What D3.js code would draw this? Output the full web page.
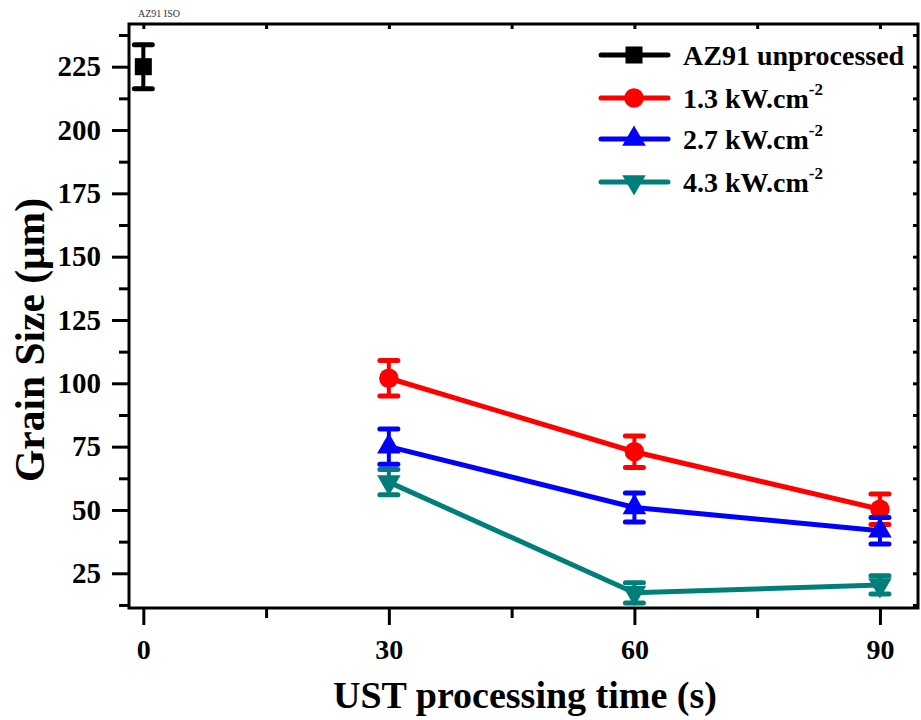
<!DOCTYPE html>
<html>
<head>
<meta charset="utf-8">
<script src="https://cdn.jsdelivr.net/npm/d3@7"></script>
<style>
  body { margin: 0; background: #fff; }
  svg { display: block; font-family: "Liberation Serif", "Times New Roman", serif; }
</style>
</head>
<body>
<div id="chart"></div>
<script>
// data
const unprocessedTime = [0];
const unprocessedSize = [225];
const unprocessedErr = [8.7];

const timeS = [30, 60, 90];
const size13 = [102, 73, 50.3];
const err13 = [7, 6.2, 6];
const size27 = [75, 51, 41.8];
const err27 = [7, 5.7, 5.2];
const size43 = [61, 17.3, 20.4];
const err43 = [5, 4, 3.6];

const xTicks = [0, 30, 60, 90];
const xMinor = [15, 45, 75];
const yTicks = [25, 50, 75, 100, 125, 150, 175, 200, 225];
const yMinor = [12.5, 37.5, 62.5, 87.5, 112.5, 137.5, 162.5, 187.5, 212.5, 237.5];

const legendLabels = ['AZ91 unprocessed', '1.3 kW.cm', '2.7 kW.cm', '4.3 kW.cm'];

const width = 921, height = 720;
const plotLeft = 129, plotRight = 918, plotTop = 24, plotBottom = 608;

const svg = d3.select('#chart').append('svg')
    .attr('width', width)
    .attr('height', height);

const x = d3.scaleLinear().domain([-1.75, 94.65]).range([plotLeft, plotRight]);
const y = d3.scaleLinear().domain([11.3, 241.85]).range([plotBottom, plotTop]);

// series: colour + symbol
const series = [
    { name: legendLabels[0], color: '#000000', sym: d3.symbolSquare, size: 290, xs: unprocessedTime, ys: unprocessedSize, es: unprocessedErr },
    { name: legendLabels[1], color: '#ff0000', sym: d3.symbolCircle, size: 300, xs: timeS, ys: size13, es: err13 },
    { name: legendLabels[2], color: '#0000ff', sym: d3.symbolTriangle, size: 240, xs: timeS, ys: size27, es: err27 },
    { name: legendLabels[3], color: '#007f7a', sym: d3.symbolTriangle, size: 240, xs: timeS, ys: size43, es: err43, flip: true }
];

// axes
function styleAxis(g, size) {
    g.select('.domain').remove();
    g.selectAll('.tick line').attr('stroke', '#000').attr('stroke-width', 3);
    g.selectAll('.tick text')
        .attr('font-family', '"Liberation Serif", serif')
        .attr('font-weight', 'bold')
        .attr('font-size', size || 28)
        .attr('fill', '#000');
}

svg.append('g')
    .attr('transform', `translate(0,${plotBottom})`)
    .call(d3.axisBottom(x).tickValues(xTicks).tickSize(17).tickPadding(14).tickFormat(d3.format('d')))
    .call(styleAxis, 28);
svg.append('g')
    .attr('transform', `translate(0,${plotBottom})`)
    .call(d3.axisBottom(x).tickValues(xMinor).tickSize(10).tickFormat(''))
    .call(styleAxis);
svg.append('g')
    .attr('transform', `translate(${plotLeft},0)`)
    .call(d3.axisLeft(y).tickValues(yTicks).tickSize(17).tickPadding(11).tickFormat(d3.format('d')))
    .call(styleAxis, 29);
svg.append('g')
    .attr('transform', `translate(${plotLeft},0)`)
    .call(d3.axisLeft(y).tickValues(yMinor).tickSize(10).tickFormat(''))
    .call(styleAxis);
// inward ticks on top and right
svg.append('g')
    .attr('transform', `translate(0,${plotTop})`)
    .call(d3.axisBottom(x).tickValues(xTicks.concat(xMinor)).tickSize(5).tickFormat(''))
    .call(styleAxis);
svg.append('g')
    .attr('transform', `translate(${plotRight},0)`)
    .call(d3.axisLeft(y).tickValues(yTicks.concat(yMinor)).tickSize(5).tickFormat(''))
    .call(styleAxis);

svg.append('rect')
    .attr('x', plotLeft).attr('y', plotTop)
    .attr('width', plotRight - plotLeft).attr('height', plotBottom - plotTop)
    .attr('fill', 'none').attr('stroke', '#000').attr('stroke-width', 3);

// axis titles
svg.append('text')
    .attr('x', 525).attr('y', 708)
    .attr('text-anchor', 'middle')
    .attr('font-weight', 'bold').attr('font-size', 38)
    .text('UST processing time (s)');

svg.append('text')
    .attr('transform', 'translate(44,340) rotate(-90)')
    .attr('text-anchor', 'middle')
    .attr('font-weight', 'bold').attr('font-size', 41.5)
    .text('Grain Size (\u03bcm)');

svg.append('text')
    .attr('x', 138).attr('y', 17)
    .attr('font-size', 10).attr('fill', '#333')
    .text('AZ91 ISO');

// plot
const line = d3.line().x(d => x(d[0])).y(d => y(d[1]));
const capW = 22;

series.forEach(s => {
    const pts = s.xs.map((t, i) => [t, s.ys[i], s.es[i]]);
    const g = svg.append('g');
    if (pts.length > 1) {
        g.append('path')
            .attr('d', line(pts))
            .attr('fill', 'none')
            .attr('stroke', s.color)
            .attr('stroke-width', 5);
    }
    pts.forEach(p => {
        const cx = x(p[0]);
        g.append('line')
            .attr('x1', cx).attr('x2', cx)
            .attr('y1', y(p[1] + p[2])).attr('y2', y(p[1] - p[2]))
            .attr('stroke', s.color).attr('stroke-width', 4);
        [p[1] + p[2], p[1] - p[2]].forEach(v => {
            g.append('line')
                .attr('x1', cx - capW / 2 + 2).attr('x2', cx + capW / 2 - 2)
                .attr('y1', y(v)).attr('y2', y(v))
                .attr('stroke', s.color).attr('stroke-width', 5)
                .attr('stroke-linecap', 'round');
        });
        g.append('path')
            .attr('d', d3.symbol().type(s.sym).size(s.size)())
            .attr('transform', `translate(${cx},${y(p[1])})` + (s.flip ? ' rotate(180)' : ''))
            .attr('fill', s.color);
    });
});

// legend
const legendY = [55, 98, 139, 182];
const legend = svg.append('g');
series.forEach((s, i) => {
    const ly = legendY[i];
    legend.append('line')
        .attr('x1', 601).attr('x2', 668)
        .attr('y1', ly).attr('y2', ly)
        .attr('stroke', s.color).attr('stroke-width', 5)
        .attr('stroke-linecap', 'round');
    legend.append('path')
        .attr('d', d3.symbol().type(s.sym).size(s.size)())
        .attr('transform', `translate(634,${ly})` + (s.flip ? ' rotate(180)' : ''))
        .attr('fill', s.color);
    const t = legend.append('text')
        .attr('x', 683).attr('y', ly + 10)
        .attr('font-weight', 'bold').attr('font-size', 28)
        .text(s.name);
    if (i > 0) {
        t.append('tspan')
            .attr('dy', -13)
            .attr('font-size', 17)
            .text('-2');
    }
});
</script>
</body>
</html>
